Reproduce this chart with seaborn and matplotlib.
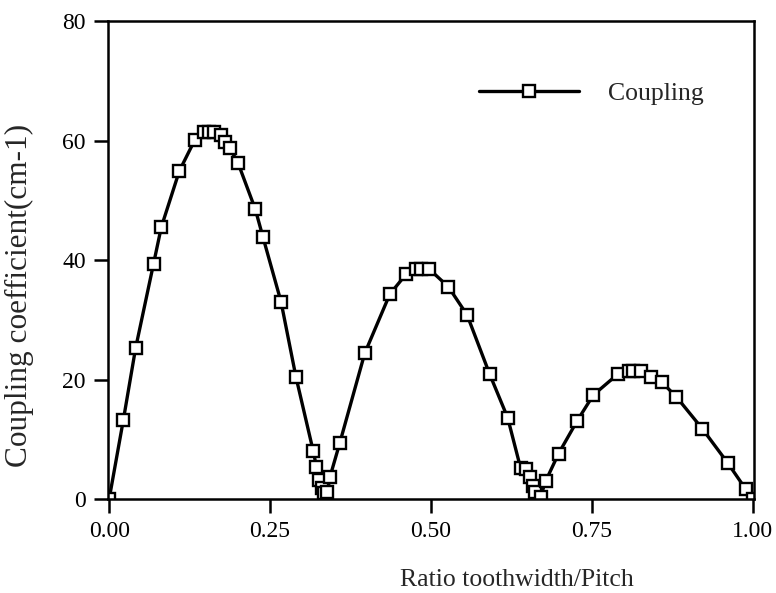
import matplotlib
matplotlib.use("Agg")
import matplotlib.pyplot as plt
import seaborn as sns
import pandas as pd

ratio = [0.0, 0.022, 0.041, 0.069, 0.081, 0.109, 0.133, 0.148, 0.155, 0.163,
         0.173, 0.180, 0.187, 0.200, 0.227, 0.239, 0.267, 0.290, 0.317, 0.322,
         0.326, 0.330, 0.334, 0.339, 0.343, 0.358, 0.397, 0.436, 0.461, 0.476,
         0.484, 0.497, 0.527, 0.556, 0.591, 0.619, 0.639, 0.647, 0.654, 0.658,
         0.662, 0.670, 0.678, 0.698, 0.727, 0.752, 0.790, 0.807, 0.814, 0.826,
         0.842, 0.858, 0.881, 0.921, 0.961, 0.989, 1.0]
coupling = [0.0, 13.2, 25.2, 39.4, 45.5, 54.9, 60.1, 61.4, 61.4, 61.4,
            61.0, 59.7, 58.8, 56.3, 48.5, 43.8, 33.0, 20.5, 8.0, 5.4,
            3.2, 1.8, 0.95, 1.1, 3.7, 9.3, 24.4, 34.3, 37.6, 38.5,
            38.5, 38.5, 35.5, 30.8, 20.9, 13.6, 5.2, 5.0, 3.7, 2.1,
            1.1, 0.4, 3.0, 7.6, 13.1, 17.4, 20.9, 21.4, 21.4, 21.4,
            20.4, 19.6, 17.1, 11.8, 6.0, 1.6, 0.0]
x_ticks = [0.0, 0.25, 0.5, 0.75, 1.0]
x_ticklabels = ["0.00", "0.25", "0.50", "0.75", "1.00"]
y_ticks = [0, 20, 40, 60, 80]

df = pd.DataFrame({"ratio": ratio, "coupling": coupling, "series": "Coupling"})

sns.set_theme(style="ticks")
plt.rcParams["font.family"] = ["Liberation Serif", "DejaVu Serif"]

fig = plt.figure(figsize=(7.76, 5.93), dpi=100)
ax = fig.add_axes([0.139, 0.1585, 0.833, 0.806])

sns.lineplot(data=df, x="ratio", y="coupling", hue="series", palette=["black"],
             sort=False, estimator=None, marker="s", markersize=8,
             markerfacecolor="white", markeredgecolor="black", markeredgewidth=1.7,
             linewidth=2.4, ax=ax)

ax.set_xlim(-0.002, 1.002)
ax.set_ylim(0, 80)
ax.set_xticks(x_ticks)
ax.set_xticklabels(x_ticklabels)
ax.set_yticks(y_ticks)
ax.tick_params(axis="both", direction="out", length=10, width=1.8, colors="black")
for lab in ax.get_xticklabels() + ax.get_yticklabels():
    lab.set_fontsize(17)
ax.tick_params(axis="x", pad=6)
ax.tick_params(axis="y", pad=6)
for s in ax.spines.values():
    s.set_linewidth(1.8)
    s.set_color("black")
    s.set_visible(True)
ax.set_xlabel("Ratio toothwidth/Pitch", fontsize=18.5)
ax.xaxis.set_label_coords(0.633, -0.146)
ax.set_ylabel("Coupling coefficient(cm-1)", fontsize=22.5)
ax.yaxis.set_label_coords(-0.115, 0.425)

leg = ax.legend(loc="center", bbox_to_anchor=(0.748, 0.849), frameon=False,
                fontsize=18.5, handlelength=3.9, handletextpad=1.15)

fig.savefig("out.png", dpi=100)
